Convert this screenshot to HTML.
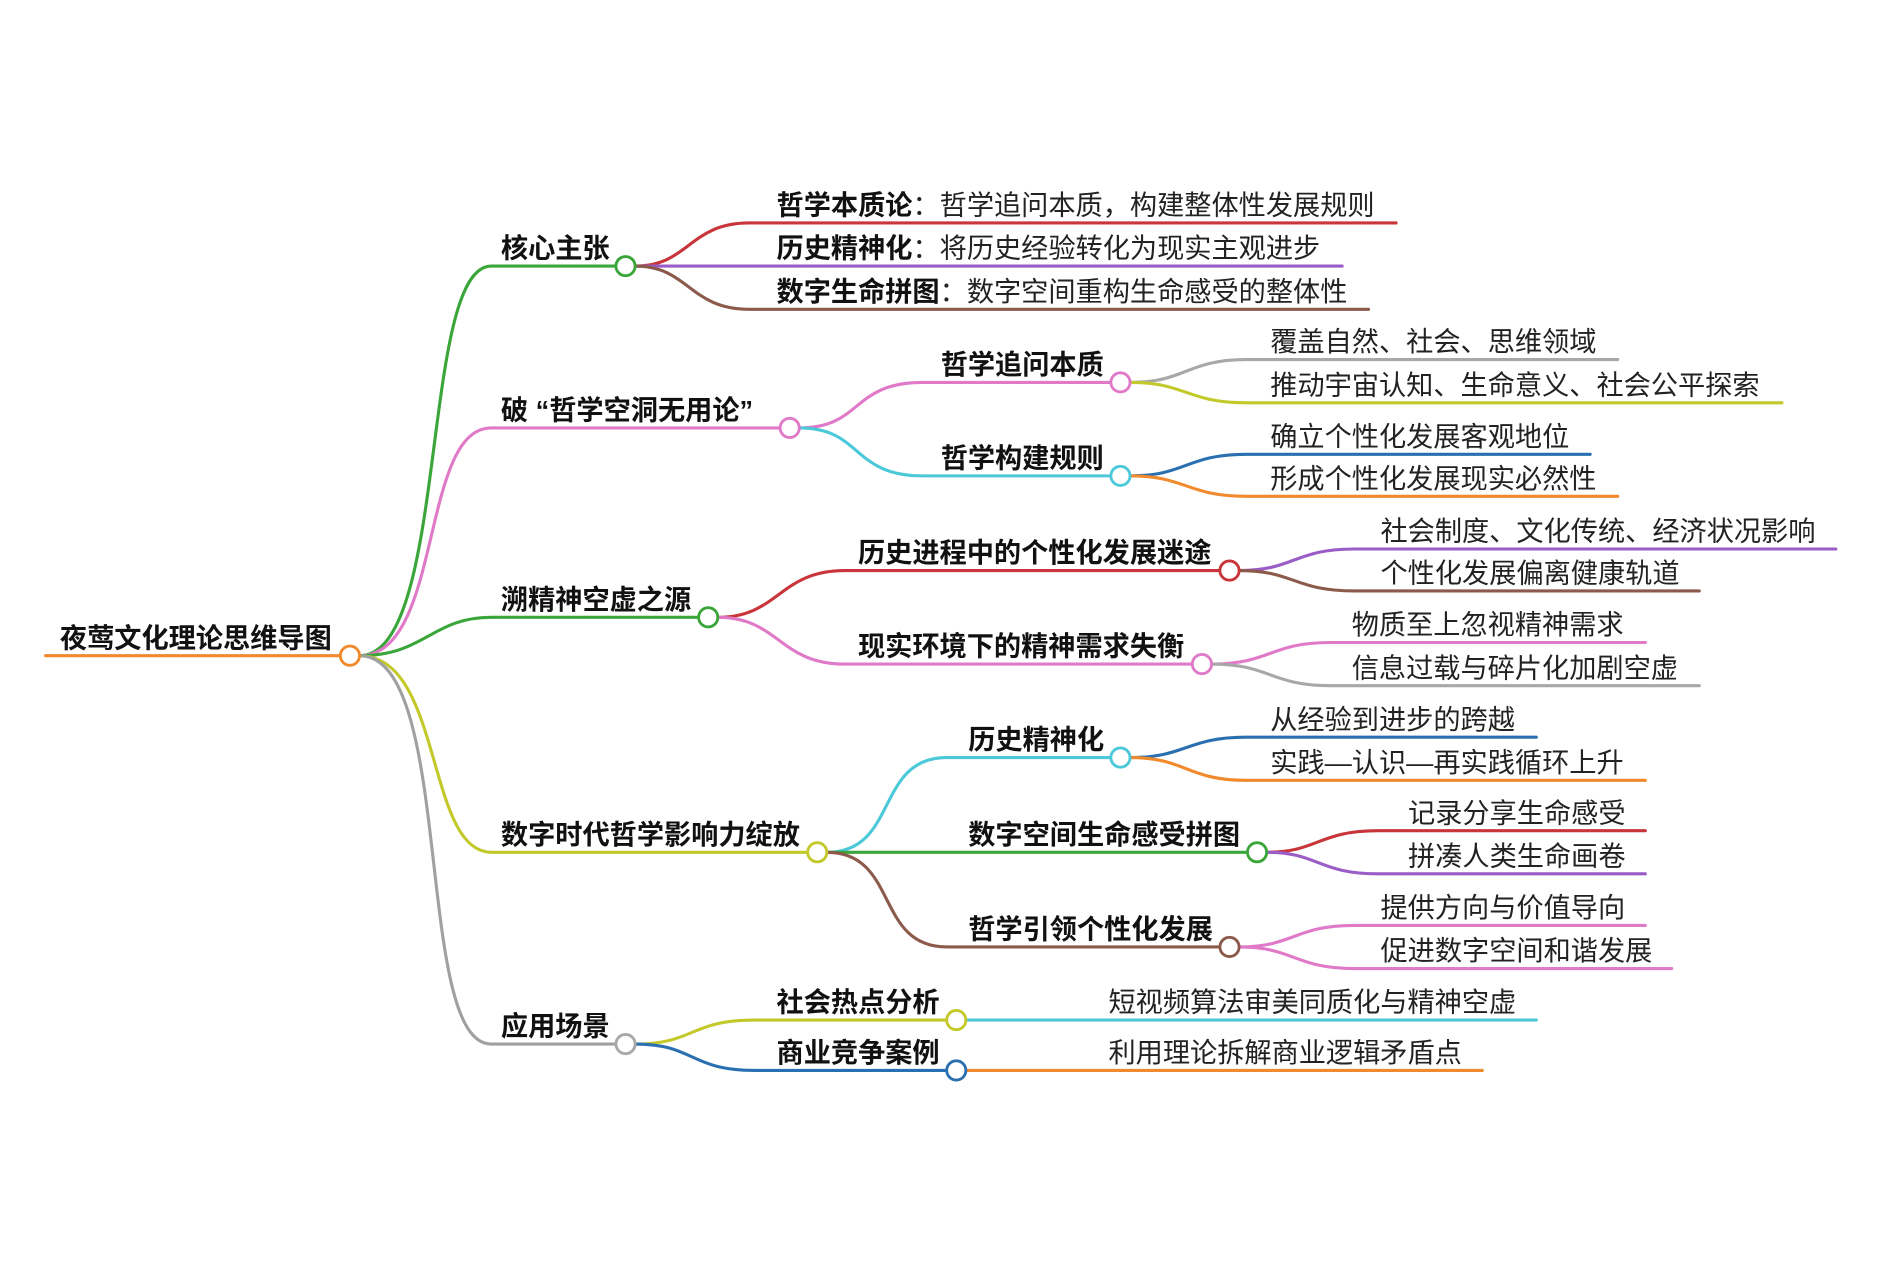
<!DOCTYPE html>
<html><head><meta charset="utf-8"><style>
html,body{margin:0;padding:0;background:#fff;}
svg{display:block}
text{font-family:"Liberation Sans","Noto Sans CJK SC",sans-serif;font-size:22.7px;fill:#222}
.b{font-weight:bold;fill:#111}
path{fill:none;stroke-width:2.6;stroke-linecap:round}
circle{fill:#fff;stroke-width:2.4}
</style></head><body>
<svg width="1879" height="1279" viewBox="0 0 1568 1067" preserveAspectRatio="none">
<path d="M38 547 L284 547" stroke="#f08a2c"/>
<text x="50" y="540" class="b">夜莺文化理论思维导图</text>

<path d="M300 547 C375 547 350 222 410 222 L514 222" stroke="#3aa63a"/>
<path d="M300 547 C370 547 350 357 410 357 L651 357" stroke="#e07ac8"/>
<path d="M300 547 C355 547 360 515 410 515 L583 515" stroke="#3aa63a"/>
<path d="M300 547 C370 547 355 711 410 711 L674 711" stroke="#c3c92a"/>
<path d="M300 547 C380 547 345 871 410 871 L514 871" stroke="#a0a0a0"/>
<circle cx="292" cy="547" r="8" stroke="#f08a2c"/>

<text x="418" y="215" class="b">核心主张</text>
<text x="418" y="350" class="b">破 “哲学空洞无用论”</text>
<text x="418" y="508" class="b">溯精神空虚之源</text>
<text x="418" y="704" class="b">数字时代哲学影响力绽放</text>
<text x="418" y="864" class="b">应用场景</text>

<path d="M530 222 C575 222 575 186 625 186 L1165 186" stroke="#c8353a"/>
<path d="M530 222 L1120 222" stroke="#9a5cc6"/>
<path d="M530 222 C575 222 575 258 625 258 L1142 258" stroke="#8b5a4a"/>
<circle cx="522" cy="222" r="8" stroke="#3aa63a"/>
<text x="648" y="179"><tspan class="b">哲学本质论</tspan>：哲学追问本质，构建整体性发展规则</text>
<text x="648" y="215"><tspan class="b">历史精神化</tspan>：将历史经验转化为现实主观进步</text>
<text x="648" y="251"><tspan class="b">数字生命拼图</tspan>：数字空间重构生命感受的整体性</text>

<path d="M667 357 C720 357 710 319 770 319 L927 319" stroke="#e07ac8"/>
<path d="M667 357 C720 357 710 397 770 397 L927 397" stroke="#4cc9d9"/>
<circle cx="659" cy="357" r="8" stroke="#e07ac8"/>
<text x="785" y="312" class="b">哲学追问本质</text>
<text x="785" y="390" class="b">哲学构建规则</text>
<path d="M943 319 C990 319 990 300 1040 300 L1350 300" stroke="#a8a8a8"/>
<path d="M943 319 C990 319 990 336 1040 336 L1487 336" stroke="#c3c92a"/>
<circle cx="935" cy="319" r="8" stroke="#e07ac8"/>
<path d="M943 397 C990 397 990 379 1040 379 L1327 379" stroke="#2a70b0"/>
<path d="M943 397 C990 397 990 414 1040 414 L1350 414" stroke="#f08a2c"/>
<circle cx="935" cy="397" r="8" stroke="#4cc9d9"/>
<text x="1060" y="293">覆盖自然、社会、思维领域</text>
<text x="1060" y="329">推动宇宙认知、生命意义、社会公平探索</text>
<text x="1060" y="372">确立个性化发展客观地位</text>
<text x="1060" y="407">形成个性化发展现实必然性</text>

<path d="M599 515 C650 515 650 476 705 476 L1018 476" stroke="#c8353a"/>
<path d="M599 515 C650 515 650 554 705 554 L995 554" stroke="#e07ac8"/>
<circle cx="591" cy="515" r="8" stroke="#3aa63a"/>
<text x="716" y="469" class="b">历史进程中的个性化发展迷途</text>
<text x="716" y="547" class="b">现实环境下的精神需求失衡</text>
<path d="M1034 476 C1080 476 1080 458 1130 458 L1532 458" stroke="#9a5cc6"/>
<path d="M1034 476 C1080 476 1080 493 1130 493 L1418 493" stroke="#8b5a4a"/>
<circle cx="1026" cy="476" r="8" stroke="#c8353a"/>
<path d="M1011 554 C1060 554 1060 536 1110 536 L1373 536" stroke="#e07ac8"/>
<path d="M1011 554 C1060 554 1060 572 1110 572 L1418 572" stroke="#a8a8a8"/>
<circle cx="1003" cy="554" r="8" stroke="#e07ac8"/>
<text x="1152" y="451">社会制度、文化传统、经济状况影响</text>
<text x="1152" y="486">个性化发展偏离健康轨道</text>
<text x="1128" y="529">物质至上忽视精神需求</text>
<text x="1128" y="565">信息过载与碎片化加剧空虚</text>

<path d="M690 711 C750 711 730 632 790 632 L927 632" stroke="#4cc9d9"/>
<path d="M690 711 L1041 711" stroke="#3aa63a"/>
<path d="M690 711 C750 711 730 790 790 790 L1018 790" stroke="#8b5a4a"/>
<circle cx="682" cy="711" r="8" stroke="#c3c92a"/>
<text x="808" y="625" class="b">历史精神化</text>
<text x="808" y="704" class="b">数字空间生命感受拼图</text>
<text x="808" y="783" class="b">哲学引领个性化发展</text>
<path d="M943 632 C990 632 990 615 1040 615 L1282 615" stroke="#2a70b0"/>
<path d="M943 632 C990 632 990 651 1040 651 L1373 651" stroke="#f08a2c"/>
<circle cx="935" cy="632" r="8" stroke="#4cc9d9"/>
<path d="M1057 711 C1100 711 1100 693 1150 693 L1373 693" stroke="#c8353a"/>
<path d="M1057 711 C1100 711 1100 729 1150 729 L1373 729" stroke="#9a5cc6"/>
<circle cx="1049" cy="711" r="8" stroke="#3aa63a"/>
<path d="M1034 790 C1080 790 1080 772 1130 772 L1373 772" stroke="#e07ac8"/>
<path d="M1034 790 C1080 790 1080 808 1130 808 L1395 808" stroke="#e07ac8"/>
<circle cx="1026" cy="790" r="8" stroke="#8b5a4a"/>
<text x="1060" y="608">从经验到进步的跨越</text>
<text x="1060" y="644">实践—认识—再实践循环上升</text>
<text x="1175" y="686">记录分享生命感受</text>
<text x="1175" y="722">拼凑人类生命画卷</text>
<text x="1152" y="765">提供方向与价值导向</text>
<text x="1152" y="801">促进数字空间和谐发展</text>

<path d="M530 871 C580 871 575 851 630 851 L790 851" stroke="#c3c92a"/>
<path d="M530 871 C580 871 575 893 630 893 L790 893" stroke="#2a70b0"/>
<circle cx="522" cy="871" r="8" stroke="#a8a8a8"/>
<text x="648" y="844" class="b">社会热点分析</text>
<text x="648" y="886" class="b">商业竞争案例</text>
<path d="M806 851 L1282 851" stroke="#4cc9d9"/>
<path d="M806 893 L1237 893" stroke="#f08a2c"/>
<circle cx="798" cy="851" r="8" stroke="#c3c92a"/>
<circle cx="798" cy="893" r="8" stroke="#2a70b0"/>
<text x="925" y="844">短视频算法审美同质化与精神空虚</text>
<text x="925" y="886">利用理论拆解商业逻辑矛盾点</text>
</svg>
</body></html>
